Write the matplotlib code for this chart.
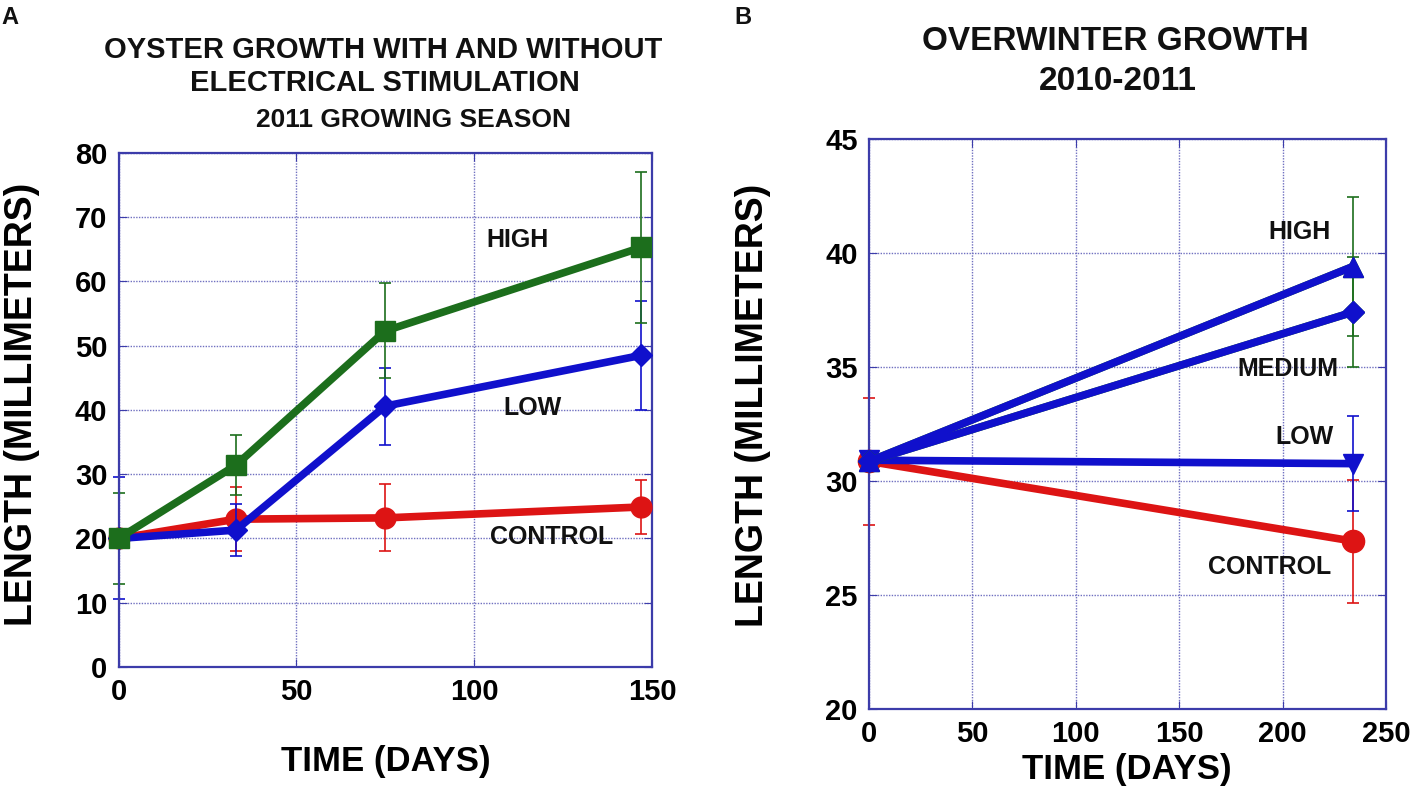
import matplotlib.pyplot as plt

# %%
# Panel A: 2011 growing season
days_a = [0, 33, 75, 147]
high_a = [20.0, 31.4, 52.3, 65.3]
high_a_err = [7.1, 4.7, 7.4, 11.7]
low_a = [20.0, 21.3, 40.6, 48.5]
low_a_err = [9.5, 4.0, 6.0, 8.5]
control_a = [20.0, 23.0, 23.2, 24.9]
control_a_err = [0.0, 5.0, 5.2, 4.2]

# Panel B: overwinter 2010-2011
days_b = [0, 234]
high_b = [30.85, 39.4]
high_b_err = [0.0, 3.05]
medium_b = [30.85, 37.4]
medium_b_err = [0.0, 2.4]
low_b = [30.9, 30.75]
low_b_err = [0.0, 2.1]
control_b = [30.85, 27.35]
control_b_err = [2.8, 2.7]

green = '#1c6e1c'
blue = '#1010cc'
red = '#dd1414'
frame = '#3c3caa'
gridc = '#7070c0'
font = 'Liberation Sans'

fig = plt.figure(figsize=(14.18, 7.94), dpi=100)
ax1 = fig.add_axes([0.0836, 0.160, 0.3762, 0.6474])
ax2 = fig.add_axes([0.6128, 0.1076, 0.3646, 0.7174])


def style_axes(ax):
    for sp in ax.spines.values():
        sp.set_color(frame)
        sp.set_linewidth(1.6)
    ax.grid(True, color=gridc, linestyle=(0, (1, 1)), linewidth=1.0)
    ax.set_axisbelow(True)
    ax.tick_params(direction='in', top=True, right=True, length=6,
                   color=frame, labelsize=21, pad=8)
    for lab in ax.get_xticklabels() + ax.get_yticklabels():
        lab.set_fontfamily(font)
        lab.set_fontweight('bold')


def series(ax, x, y, err, color, marker, ms, z):
    # error bars at day 0 sit under the frame, only their caps show
    ax.errorbar(x[:1], y[:1], yerr=err[:1], fmt='none', ecolor=color,
                elinewidth=1.2, capsize=4, capthick=1.2, zorder=2,
                clip_on=False)
    ax.errorbar(x[1:], y[1:], yerr=err[1:], fmt='none', ecolor=color,
                elinewidth=1.2, capsize=4, capthick=1.2, zorder=z,
                clip_on=False)
    ax.plot(x, y, color=color, lw=5.5, marker=marker, ms=ms, mec=color,
            mfc=color, zorder=z, clip_on=False)


# %%
# Panel A
series(ax1, days_a, control_a, control_a_err, red, 'o', 15, 3)
series(ax1, days_a, low_a, low_a_err, blue, 'D', 11, 4)
series(ax1, days_a, high_a, high_a_err, green, 's', 15, 5)
ax1.set_xlim(0, 150)
ax1.set_ylim(0, 80)
ax1.set_xticks([0, 50, 100, 150])
ax1.set_yticks(range(0, 81, 10))
style_axes(ax1)

lab_kw = dict(fontsize=18, fontweight='bold', fontfamily=font,
              ha='center', va='center', color='#111111')
ax1.text(112.3, 66.5, 'HIGH', **lab_kw)
ax1.text(116.5, 40.3, 'LOW', **lab_kw)
ax1.text(121.9, 20.2, 'CONTROL', **lab_kw)

ax1.set_ylabel('LENGTH (MILLIMETERS)', fontsize=27, fontweight='bold',
               fontfamily=font)
ax1.yaxis.set_label_coords(-0.148, 0.51)
ax1.set_xlabel('TIME (DAYS)', fontsize=25, fontweight='bold',
               fontfamily=font)
ax1.xaxis.set_label_coords(0.501, -0.152)

# %%
# Panel B
series(ax2, days_b, control_b, control_b_err, red, 'o', 16, 3)
series(ax2, days_b, low_b, low_b_err, blue, 'v', 14, 4)
series(ax2, days_b, medium_b, medium_b_err, green, 'D', 11, 4)
series(ax2, days_b, high_b, high_b_err, green, '^', 15, 4)
# blue lines with blue markers drawn over the green error bars
ax2.plot(days_b, medium_b, color=blue, lw=5.5, marker='D', ms=11, zorder=5,
         clip_on=False)
ax2.plot(days_b, high_b, color=blue, lw=5.5, marker='^', ms=15, zorder=5,
         clip_on=False)
ax2.set_xlim(0, 250)
ax2.set_ylim(20, 45)
ax2.set_xticks(range(0, 251, 50))
ax2.set_yticks(range(20, 46, 5))
style_axes(ax2)

ax2.text(208.4, 40.9, 'HIGH', **lab_kw)
ax2.text(202.6, 34.9, 'MEDIUM', **lab_kw)
ax2.text(210.5, 31.9, 'LOW', **lab_kw)
ax2.text(193.9, 26.2, 'CONTROL', **lab_kw)

ax2.set_ylabel('LENGTH (MILLIMETERS)', fontsize=27, fontweight='bold',
               fontfamily=font)
ax2.yaxis.set_label_coords(-0.19, 0.533)
ax2.set_xlabel('TIME (DAYS)', fontsize=25, fontweight='bold',
               fontfamily=font)
ax2.xaxis.set_label_coords(0.499, -0.078)

# %%
# Titles and panel letters
tkw = dict(fontweight='bold', fontfamily=font, ha='center', va='center',
           color='#111111')
fig.text(383 / 1418, 1 - 50 / 794, 'OYSTER GROWTH WITH AND WITHOUT',
         fontsize=21, **tkw)
fig.text(385 / 1418, 1 - 83 / 794, 'ELECTRICAL STIMULATION', fontsize=21,
         **tkw)
fig.text(414 / 1418, 1 - 120 / 794, '2011 GROWING SEASON', fontsize=19,
         **tkw)
fig.text(1115 / 1418, 1 - 42 / 794, 'OVERWINTER GROWTH', fontsize=24, **tkw)
fig.text(1118 / 1418, 1 - 81 / 794, '2010-2011', fontsize=24, **tkw)
fig.text(10 / 1418, 1 - 18 / 794, 'A', fontsize=17, **tkw)
fig.text(743 / 1418, 1 - 18 / 794, 'B', fontsize=17, **tkw)

fig.savefig('out.png', dpi=100)
